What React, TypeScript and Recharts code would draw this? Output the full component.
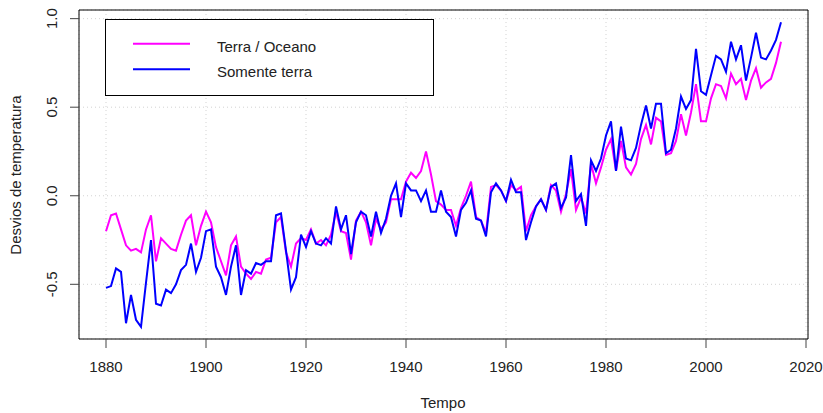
import React from 'react';
import { LineChart, Line, XAxis, YAxis, CartesianGrid, ReferenceArea, Legend } from 'recharts';

const FONT = '"Liberation Sans", Arial, sans-serif';

const firstYear = 1880;

const terraOceano = [
  -0.20, -0.11, -0.10, -0.19, -0.28, -0.31, -0.30, -0.32, -0.19, -0.11,
  -0.37, -0.24, -0.27, -0.30, -0.31, -0.22, -0.14, -0.11, -0.28, -0.17,
  -0.09, -0.15, -0.29, -0.37, -0.45, -0.28, -0.23, -0.40, -0.44, -0.47,
  -0.43, -0.44, -0.36, -0.35, -0.15, -0.12, -0.32, -0.40, -0.27, -0.24,
  -0.25, -0.19, -0.27, -0.25, -0.28, -0.22, -0.09, -0.20, -0.21, -0.36,
  -0.14, -0.09, -0.15, -0.28, -0.13, -0.19, -0.15, -0.02, -0.02, -0.02,
  0.08, 0.13, 0.10, 0.14, 0.25, 0.12, -0.03, -0.05, -0.08, -0.08,
  -0.17, -0.07, 0.00, 0.08, -0.12, -0.14, -0.21, 0.05, 0.06, 0.03,
  -0.03, 0.06, 0.03, 0.05, -0.20, -0.11, -0.06, -0.02, -0.08, 0.06,
  0.03, -0.09, 0.01, 0.15, -0.08, -0.01, -0.10, 0.18, 0.07, 0.16,
  0.26, 0.32, 0.14, 0.31, 0.16, 0.12, 0.18, 0.32, 0.40, 0.29,
  0.44, 0.42, 0.23, 0.24, 0.31, 0.46, 0.34, 0.47, 0.63, 0.42,
  0.42, 0.55, 0.63, 0.62, 0.55, 0.69, 0.63, 0.66, 0.54, 0.65,
  0.72, 0.61, 0.64, 0.66, 0.75, 0.87,
];

const somenteTerra = [
  -0.52, -0.51, -0.41, -0.43, -0.72, -0.56, -0.70, -0.74, -0.49, -0.25,
  -0.61, -0.62, -0.53, -0.55, -0.50, -0.42, -0.39, -0.27, -0.43, -0.35,
  -0.20, -0.19, -0.40, -0.46, -0.56, -0.40, -0.28, -0.56, -0.42, -0.44,
  -0.38, -0.39, -0.37, -0.37, -0.11, -0.10, -0.31, -0.53, -0.46, -0.22,
  -0.29, -0.20, -0.27, -0.28, -0.24, -0.27, -0.06, -0.19, -0.11, -0.33,
  -0.15, -0.09, -0.11, -0.23, -0.09, -0.21, -0.13, 0.00, 0.07, -0.12,
  0.07, 0.03, 0.03, -0.03, 0.03, -0.09, -0.09, 0.03, -0.09, -0.12,
  -0.23, -0.08, -0.04, 0.03, -0.13, -0.14, -0.23, 0.02, 0.07, 0.03,
  -0.03, 0.09, 0.02, 0.02, -0.25, -0.15, -0.06, -0.02, -0.08, 0.05,
  0.07, -0.07, -0.01, 0.23, -0.03, 0.01, -0.17, 0.20, 0.14, 0.21,
  0.34, 0.42, 0.14, 0.39, 0.21, 0.20, 0.27, 0.40, 0.51, 0.38,
  0.52, 0.52, 0.24, 0.26, 0.38, 0.56, 0.49, 0.54, 0.83, 0.59,
  0.57, 0.68, 0.79, 0.77, 0.70, 0.87, 0.77, 0.85, 0.65, 0.78,
  0.92, 0.78, 0.77, 0.82, 0.88, 0.98,
];

const xTicks = [1880, 1900, 1920, 1940, 1960, 1980, 2000, 2020];
const yTicks = [-0.5, 0.0, 0.5, 1.0];

const seriesKeys = ['terraOceano', 'somenteTerra'];
const seriesNames = ['Terra / Oceano', 'Somente terra'];
const seriesColors = ['#ff00ff', '#0000ff'];

const xTitle = 'Tempo';
const yTitle = 'Desvios de temperatura';

const data = terraOceano.map((v, i) => ({
  year: firstYear + i,
  terraOceano: v,
  somenteTerra: somenteTerra[i],
}));

const pad = (lo: number, hi: number): [number, number] => {
  const r = (hi - lo) * 0.04;
  return [lo - r, hi + r];
};
const xDomain = pad(firstYear, firstYear + terraOceano.length - 1);
const allVals = [...terraOceano, ...somenteTerra];
const yDomain = pad(Math.min(...allVals), Math.max(...allVals));

const YTick = (props: any) => {
  const { y, payload } = props;
  return (
    <text
      transform={`translate(57, ${y}) rotate(-90)`}
      textAnchor="middle"
      fontSize={15}
      fontFamily={FONT}
      fill="#222"
    >
      {Number(payload.value).toFixed(1)}
    </text>
  );
};

const renderLegend = () => (
  <div
    style={{
      width: 329,
      height: 77,
      border: '1px solid #000',
      boxSizing: 'border-box',
      background: '#fff',
    }}
  >
    <svg width={327} height={75} style={{ display: 'block' }}>
      {seriesNames.map((name, i) => (
        <g key={name}>
          <line
            x1={27}
            x2={84}
            y1={23.7 + i * 25.6}
            y2={23.7 + i * 25.6}
            stroke={seriesColors[i]}
            strokeWidth={2}
          />
          <text x={111} y={31.7 + i * 25.3} fontSize={15} fontFamily={FONT} fill="#222">
            {name}
          </text>
        </g>
      ))}
    </svg>
  </div>
);

export default function App() {
  return (
    <div style={{ position: 'absolute', left: 0, top: 0, background: '#fff' }}>
      <LineChart
        width={823}
        height={413}
        data={data}
        margin={{ top: 10, right: 15, left: 0, bottom: 0 }}
      >
        <CartesianGrid stroke="#d3d3d3" strokeDasharray="1 3" />
        <XAxis
          dataKey="year"
          type="number"
          domain={xDomain}
          allowDataOverflow
          ticks={xTicks}
          interval={0}
          height={74}
          axisLine={false}
          tickSize={9}
          tickMargin={13}
          tickLine={{ stroke: '#444' }}
          tick={{ fill: '#222', fontSize: 15, fontFamily: FONT }}
          label={{
            content: () => (
              <text x={443} y={408} textAnchor="middle" fontSize={15} fontFamily={FONT} fill="#222">
                {xTitle}
              </text>
            ),
          }}
        />
        <YAxis
          type="number"
          domain={yDomain}
          allowDataOverflow
          ticks={yTicks}
          interval={0}
          width={79}
          axisLine={false}
          tickSize={9}
          tickLine={{ stroke: '#444' }}
          tick={<YTick />}
          label={{
            content: () => (
              <text
                transform="translate(21, 175) rotate(-90)"
                textAnchor="middle"
                fontSize={15}
                fontFamily={FONT}
                fill="#222"
              >
                {yTitle}
              </text>
            ),
          }}
        />
        <ReferenceArea
          x1={xDomain[0]}
          x2={xDomain[1]}
          y1={yDomain[0]}
          y2={yDomain[1]}
          fill="none"
          fillOpacity={0}
          stroke="#000"
          strokeWidth={1}
          ifOverflow="visible"
        />
        {seriesKeys.map((k, i) => (
          <Line
            key={k}
            dataKey={k}
            name={seriesNames[i]}
            stroke={seriesColors[i]}
            strokeWidth={2}
            dot={false}
            activeDot={false}
            isAnimationActive={false}
          />
        ))}
        <Legend
          layout="horizontal"
          verticalAlign="middle"
          align="center"
          content={renderLegend}
          wrapperStyle={{ left: 105, top: 19, width: 329, height: 77 }}
        />
      </LineChart>
    </div>
  );
}
